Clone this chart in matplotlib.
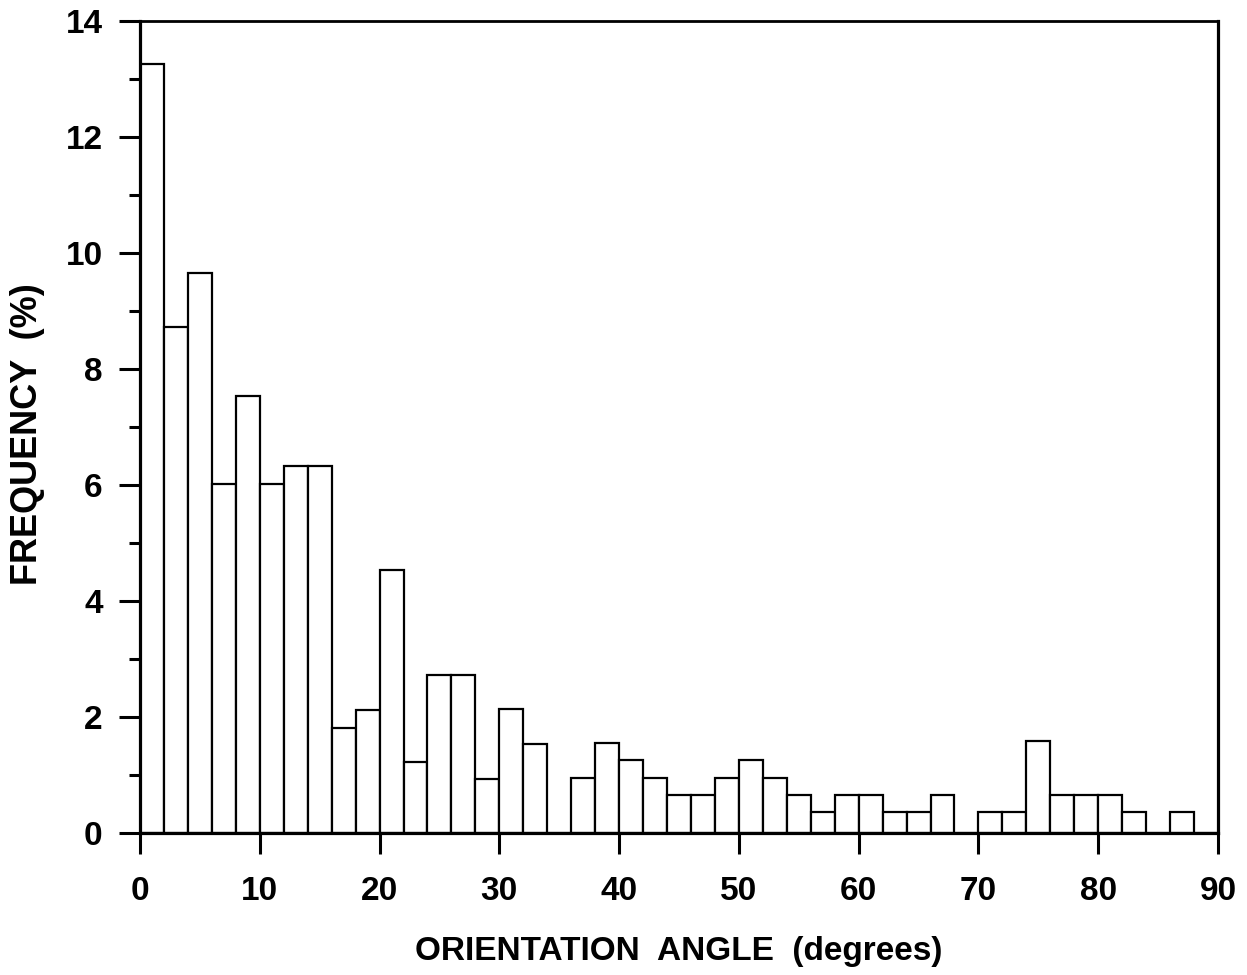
import numpy as np
import matplotlib.pyplot as plt
from matplotlib.ticker import MultipleLocator

plt.rcParams['font.family'] = ['Liberation Sans', 'DejaVu Sans']
plt.rcParams['font.weight'] = 'bold'

# 2-degree bins from 0 to 90
bin_edges = np.arange(0, 92, 2)
frequency = [13.25, 8.72, 9.65, 6.02, 7.54, 6.02, 6.33, 6.33, 1.81, 2.12,
             4.53, 1.22, 2.72, 2.72, 0.93, 2.13, 1.54, 0.0, 0.95, 1.55,
             1.26, 0.95, 0.65, 0.65, 0.95, 1.26, 0.95, 0.66, 0.36, 0.66,
             0.66, 0.36, 0.36, 0.66, 0.0, 0.36, 0.36, 1.59, 0.66, 0.66,
             0.66, 0.36, 0.0, 0.36, 0.0]

fig = plt.figure(figsize=(12.47, 9.75), dpi=100)
ax = fig.add_axes([0.1123, 0.1456, 0.8644, 0.8329])

ax.bar(bin_edges[:-1], frequency, width=2, align='edge',
       facecolor='white', edgecolor='black', linewidth=1.6)

ax.set_xlim(0, 90)
ax.set_ylim(0, 14)
ax.xaxis.set_major_locator(MultipleLocator(10))
ax.yaxis.set_major_locator(MultipleLocator(2))
ax.yaxis.set_minor_locator(MultipleLocator(1))

for side in ['left', 'bottom', 'right']:
    ax.spines[side].set_linewidth(2.3)
ax.spines['top'].set_linewidth(2.0)

ax.tick_params(axis='both', which='major', direction='out', length=15,
               width=2.2, labelsize=24)
ax.tick_params(axis='x', which='major', pad=16)
ax.tick_params(axis='y', which='major', pad=12)
ax.tick_params(axis='y', which='minor', direction='out', length=8, width=2.2)
ax.tick_params(axis='x', which='minor', bottom=False)

ax.set_xlabel('ORIENTATION  ANGLE  (degrees)', fontsize=24, fontweight='bold')
ax.set_ylabel('FREQUENCY  (%)', fontsize=26, fontweight='bold')
ax.xaxis.set_label_coords(0.5, -0.127)
ax.yaxis.set_label_coords(-0.088, 0.491)

fig.savefig('out.png', dpi=100)
